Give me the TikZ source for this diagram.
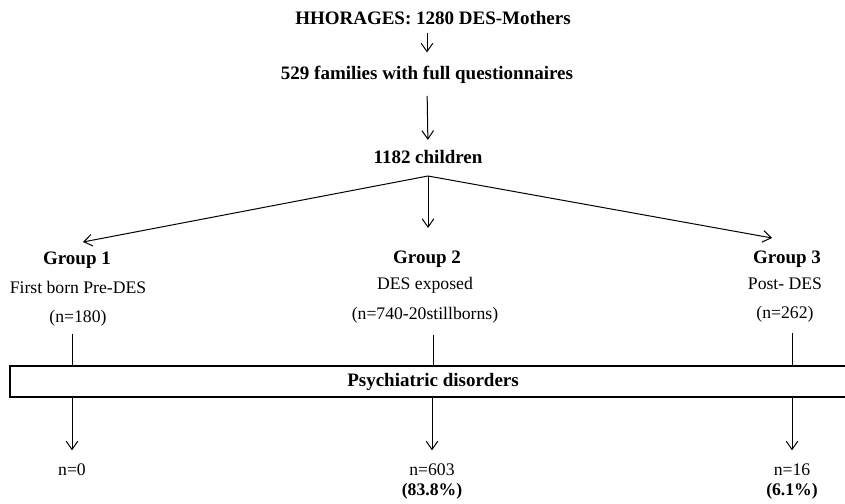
\documentclass[tikz,border=0pt]{standalone}
\usepackage{fontspec}
\setmainfont{Liberation Serif}
\usetikzlibrary{arrows.meta,positioning}

\tikzset{
  head/.style={font=\fontsize{11.4}{13}\selectfont\bfseries, inner sep=1pt},
  txt/.style={font=\fontsize{10.6}{12}\selectfont, inner sep=1pt},
  arr/.style={-{Straight Barb[length=5pt,width=7pt]}},
}

\begin{document}
\begin{tikzpicture}[x=0.6pt,y=0.6pt,line width=0.6pt]
  \useasboundingbox (0,-504) rectangle (845,0);

  % top of the flow chart
  \node[head] (top) at (433,-18) {HHORAGES: 1280 DES-Mothers};
  \node[head] (fam) at (427,-75) {529 families with full questionnaires};
  \node[head] (kids) at (428,-157) {1182 children};
  \coordinate (split) at (428,-176);
  \coordinate (t1) at (83,-242);
  \coordinate (t2) at (428,-228);
  \coordinate (t3) at (772,-238);

  \draw[arr, shorten <=3.6pt, shorten >=7pt] (top.south -| fam) -- (fam.north);
  \draw[arr, shorten <=6pt, shorten >=5pt] (fam.south) -- (kids.north);
  \draw[arr] (split) -- (t1);
  \draw[arr] (split) -- (t2);
  \draw[arr] (split) -- (t3);

  % groups
  \node[head] (g1) at (77,-260) {Group 1};
  \node[txt] (g1a) at (78,-287) {First born Pre-DES};
  \node[txt] (g1n) at (78,-318) {(n=180)};
  \node[head] (g2) at (427,-259) {Group 2};
  \node[txt] (g2a) at (425,-285) {DES exposed};
  \node[txt] (g2n) at (425,-315) {(n=740-20stillborns)};
  \node[head] (g3) at (787,-259) {Group 3};
  \node[txt] (g3a) at (785,-284) {Post- DES};
  \node[txt] (g3n) at (785,-314) {(n=262)};

  \node[draw, line width=1.3pt, minimum width=510pt, minimum height=18.6pt,
        inner sep=0pt] (box) at (435,-381.5) {};
  \node[head] (psy) at (433,-382) {Psychiatric disorders};

  \coordinate (c1) at (72,-334);
  \coordinate (c2) at (433,-335);
  \coordinate (c3) at (792,-333);
  \draw (c1) -- (c1 |- box.north);
  \draw (c2) -- (c2 |- box.north);
  \draw (c3) -- (c3 |- box.north);

  % results
  \node[txt, anchor=north] (r1) at (72,-462) {n=0};
  \node[txt, anchor=north, align=center] (r2) at (432,-462) {n=603\\\textbf{(83.8\%)}};
  \node[txt, anchor=north, align=center] (r3) at (792,-462) {n=16\\\textbf{(6.1\%)}};
  \draw[arr, shorten >=7pt] (box.south -| r1) -- (r1.north);
  \draw[arr, shorten >=7pt] (box.south -| r2) -- (r2.north);
  \draw[arr, shorten >=7pt] (box.south -| r3) -- (r3.north);
\end{tikzpicture}
\end{document}
